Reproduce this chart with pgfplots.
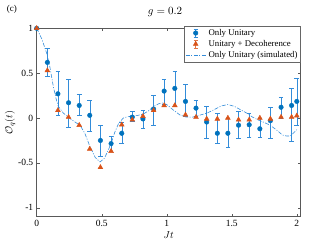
\documentclass[border=0pt]{standalone}
\usepackage{pgfplots}
\pgfplotsset{compat=1.18}
\usepackage{pgfplotstable}
\usepackage{fontspec}
\setmainfont{Liberation Serif}
\definecolor{mblue}{rgb}{0,0.447,0.741}
\definecolor{morange}{rgb}{0.85,0.325,0.098}
\definecolor{lblue}{rgb}{0.2,0.55,0.85}

\pgfplotstableread{
x y ep em
0.000 1.000 0 0
0.082 0.620 0.16 0.16
0.163 0.270 0.25 0.24
0.245 0.170 0.26 0.27
0.327 0.140 0.12 0.11
0.408 0.030 0.17 0.18
0.490 -0.250 0.17 0.18
0.572 -0.285 0.085 0.085
0.654 -0.170 0.12 0.11
0.735 0.010 0.06 0.05
0.817 -0.010 0.10 0.10
0.899 0.100 0.15 0.185
0.980 0.300 0.13 0.15
1.062 0.330 0.19 0.20
1.144 0.185 0.195 0.165
1.225 0.110 0.09 0.09
1.307 -0.045 0.175 0.185
1.389 -0.170 0.225 0.11
1.470 -0.170 0.17 0.16
1.552 -0.080 0.15 0.14
1.634 -0.075 0.13 0.135
1.716 -0.120 0.12 0.09
1.797 -0.030 0.15 0.19
1.879 0.120 0.11 0.12
1.960 0.140 0.19 0.40
2.000 0.185 0.255 0.27
}\unitary

\pgfplotstableread{
x y
0.000 1.000
0.082 0.530
0.163 0.085
0.245 0.010
0.327 -0.080
0.408 -0.345
0.490 -0.550
0.572 -0.370
0.654 -0.075
0.735 -0.020
0.817 0.020
0.899 0.085
0.980 0.140
1.062 0.140
1.144 0.035
1.225 0.010
1.307 -0.010
1.389 -0.010
1.470 0.000
1.552 -0.020
1.634 -0.020
1.716 0.000
1.797 -0.010
1.879 0.010
1.960 0.010
2.000 0.025
}\decoh

\pgfplotstableread{
x y
0 1
0.04 0.88
0.077 0.72
0.1 0.58
0.128 0.35
0.15 0.21
0.166 0.13
0.205 0.055
0.25 0.0
0.3 -0.05
0.333 -0.08
0.37 -0.17
0.41 -0.32
0.45 -0.44
0.487 -0.49
0.52 -0.45
0.55 -0.36
0.577 -0.26
0.6 -0.16
0.63 -0.06
0.666 0.0
0.7 0.015
0.74 0.02
0.78 0.03
0.82 0.045
0.86 0.08
0.9 0.13
0.94 0.16
0.97 0.167
1.0 0.15
1.05 0.09
1.1 0.035
1.15 0.01
1.2 0.01
1.25 0.03
1.31 0.055
1.36 0.09
1.42 0.135
1.47 0.15
1.52 0.13
1.57 0.09
1.615 0.055
1.66 0.01
1.7 -0.02
1.75 -0.05
1.795 -0.08
1.85 -0.14
1.89 -0.19
1.92 -0.2
1.95 -0.2
1.98 -0.16
2.0 -0.13
}\sim

\begin{document}
\begin{tikzpicture}
\useasboundingbox (-36.7pt,-27.3pt) rectangle (285.3pt,216.7pt);
\begin{axis}[
  width=264pt, height=188.4pt, scale only axis,
  xmin=0, xmax=2.03, ymin=-1.1, ymax=1,
  xtick={0,0.5,1,1.5,2}, ytick={-1,-0.5,0,0.5,1},
  tick pos=both, tick align=inside, major tick length=3pt,
  axis line style={black!65, line width=0.4pt},
  tick style={black!65, line width=0.4pt},
  ticklabel style={font=\fontsize{9.5}{11}\selectfont},
  /pgf/number format/assume math mode=true,
  xlabel={$Jt$}, ylabel={$\mathcal{O}_q(t)$},
  label style={font=\fontsize{10}{12}\selectfont},
  xlabel style={yshift=2pt},
  ylabel shift=-4pt,
  legend style={at={(1,1.012)}, anchor=north east, font=\fontsize{8.8}{10}\selectfont,
    draw=black!60, line width=0.4pt, inner sep=1pt, row sep=-0.6pt, fill=white},
  legend cell align=left,
  clip=false,
]
\addplot[only marks, mark=*, mark size=2.3pt, color=mblue, forget plot,
  error bars/.cd, y dir=both, y explicit,
  error bar style={lblue, line width=0.5pt},
  error mark options={rotate=90, mark size=2.3pt, lblue, line width=0.5pt},
  ] table[x=x, y=y, y error plus=ep, y error minus=em] {\unitary};
\addlegendimage{legend image code/.code={
  \draw[lblue,line width=0.5pt] (0.35cm,-4pt)--(0.35cm,4pt) (0.35cm-2pt,-4pt)--(0.35cm+2pt,-4pt) (0.35cm-2pt,4pt)--(0.35cm+2pt,4pt);
  \path[color=mblue] plot[mark=*, mark size=2.3pt] coordinates {(0.35cm,0cm)};}}
\addlegendentry{Only Unitary}
\addplot[only marks, mark=triangle*, mark size=2.8pt, color=morange, forget plot]
  table[x=x, y=y] {\decoh};
\addlegendimage{legend image code/.code={
  \draw[morange!80,line width=0.5pt] (0.35cm,-4pt)--(0.35cm,4pt) (0.35cm-2pt,-4pt)--(0.35cm+2pt,-4pt) (0.35cm-2pt,4pt)--(0.35cm+2pt,4pt);
  \path[color=morange] plot[mark=triangle*, mark size=2.8pt] coordinates {(0.35cm,0cm)};}}
\addlegendentry{Unitary + Decoherence}
\addplot[lblue, line width=0.6pt, dash pattern=on 4pt off 1.5pt on 1pt off 1.5pt, forget plot]
  table[x=x, y=y] {\sim};
\addlegendimage{legend image code/.code={
  \draw[lblue, line width=0.6pt, dash pattern=on 4pt off 1.5pt on 1pt off 1.5pt] (0cm,0cm) -- (0.72cm,0cm);}}
\addlegendentry{Only Unitary (simulated)}
\node[font=\fontsize{11}{13}\selectfont] at (axis description cs:0.486,1.088) {$g=0.2$};
\node[font=\fontsize{9}{11}\selectfont] at (axis description cs:-0.094,1.102) {(c)};
\end{axis}
\end{tikzpicture}
\end{document}
